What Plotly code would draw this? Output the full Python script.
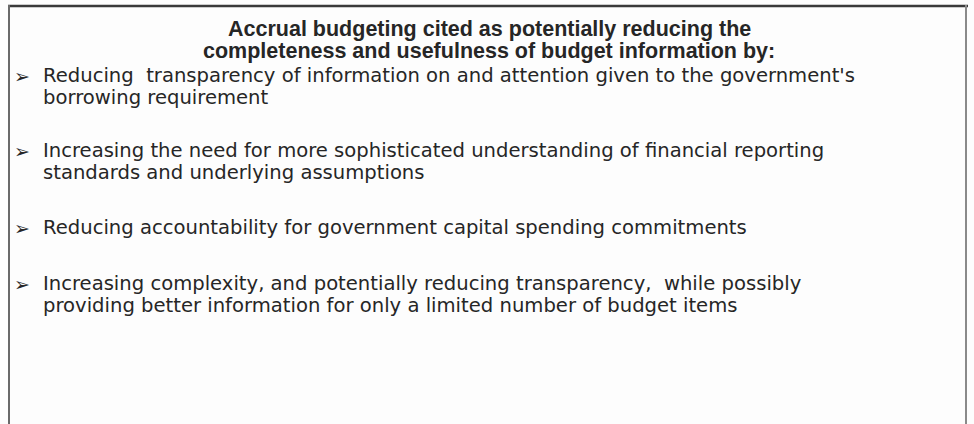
import plotly.graph_objects as go

title_lines = [
    "Accrual budgeting cited as potentially reducing the",
    "completeness and usefulness of budget information by:",
]
bullet_items = [
    ["Reducing  transparency of information on and attention given to the government's",
     "borrowing requirement"],
    ["Increasing the need for more sophisticated understanding of financial reporting",
     "standards and underlying assumptions"],
    ["Reducing accountability for government capital spending commitments"],
    ["Increasing complexity, and potentially reducing transparency,  while possibly",
     "providing better information for only a limited number of budget items"],
]
title_y = [29, 51]
bullet_y = [75, 150, 227, 283]
line_gap = 22

W, H = 974, 424
fig = go.Figure()
fig.add_trace(go.Scatter(x=[0, W], y=[0, H], mode="markers", marker=dict(opacity=0), hoverinfo="skip", showlegend=False))

font_title = "Liberation Sans, Arial, Helvetica, sans-serif"
font_body = "DejaVu Sans, Liberation Sans, Arial, sans-serif"
txt_color = "#262626"

for t, y in zip(title_lines, title_y):
    fig.add_annotation(x=489, y=y, xref="x", yref="y", text="<b>" + t + "</b>", showarrow=False,
                       xanchor="center", yanchor="middle", borderpad=0,
                       font=dict(family=font_title, size=21.5, color=txt_color))

for item, y0 in zip(bullet_items, bullet_y):
    fig.add_annotation(x=13, y=y0 + 1, xref="x", yref="y", text="➢", showarrow=False,
                       xanchor="left", yanchor="middle", borderpad=0,
                       font=dict(family="DejaVu Sans", size=19, color=txt_color))
    for i, line in enumerate(item):
        fig.add_annotation(x=42, y=y0 + i * line_gap, xref="x", yref="y", text=line, showarrow=False,
                           xanchor="left", yanchor="middle", borderpad=0,
                           font=dict(family=font_body, size=19.6, color=txt_color))

# frame
fig.add_shape(type="line", x0=8, x1=968, y0=6, y1=6, xref="x", yref="y", line=dict(color="#3a3a3a", width=2.5))
fig.add_shape(type="line", x0=9, x1=9, y0=5, y1=H + 2, xref="x", yref="y", line=dict(color="#6a6a6a", width=2))
fig.add_shape(type="line", x0=966, x1=966, y0=5, y1=H + 2, xref="x", yref="y", line=dict(color="#8a8a8a", width=2))

fig.update_layout(
    width=W, height=H,
    margin=dict(l=0, r=0, t=0, b=0),
    paper_bgcolor="#fdfdfd", plot_bgcolor="#fdfdfd",
    xaxis=dict(range=[0, W], visible=False, fixedrange=True),
    yaxis=dict(range=[H, 0], visible=False, fixedrange=True),
    showlegend=False,
)
fig.write_html("out.html", config={"displayModeBar": False},
               post_script="document.body.style.margin='0';document.body.style.overflow='hidden';")
